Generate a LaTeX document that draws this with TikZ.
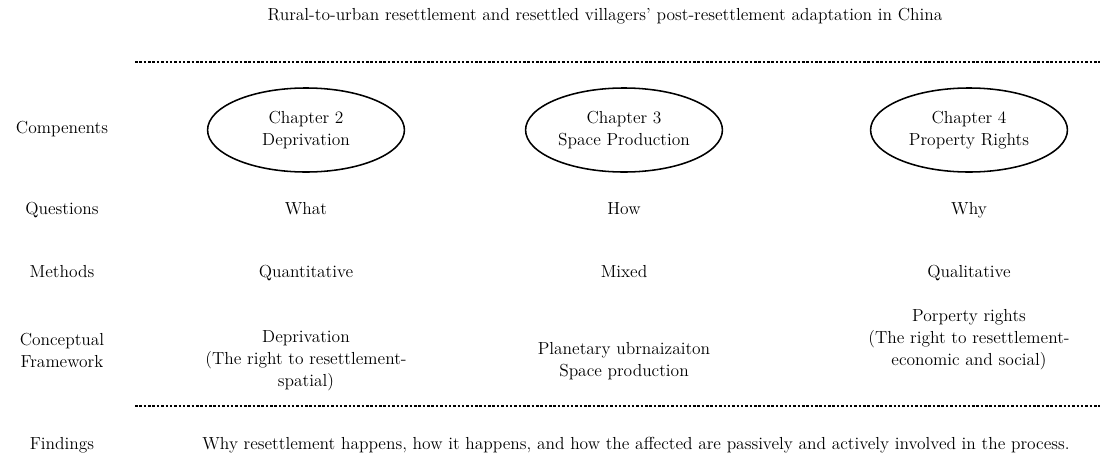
\documentclass[tikz,border=0pt]{standalone}
\usetikzlibrary{positioning, shapes.geometric}
\begin{document}
\begin{tikzpicture}[x=0.025cm, y=-0.025cm,
	every node/.style={align=center, font=\fontsize{12.4}{15.6}\selectfont},
	cell/.style={text height=1.6ex, text depth=.45ex},
	chapter/.style={draw, ellipse, line width=1.1pt, minimum width=4.92cm, minimum height=2.1cm, inner sep=0pt},
	sep/.style={line width=1.1pt, dash pattern=on 1.8pt off 1.3pt}]

	\useasboundingbox (0,0) rectangle (1108,461);
	% Title
	\node[cell] (title) at (605,17) {Rural-to-urban resettlement and resettled villagers' post-resettlement adaptation in China};
	% Separators
	\coordinate (topL) at (135,62);
	\coordinate (topR) at (1100,62);
	\coordinate (botL) at (135,406);
	\coordinate (botR) at (1100,406);
	\draw[sep] (topL) -- (topR);
	\draw[sep] (botL) -- (botR);

	% Row labels
	\node[cell] (comp)  at (62,130) {Compenents};
	\node[cell] (quest) at (62,211) {Questions};
	\node[cell] (meth)  at (62,274) {Methods};
	\node       (frame) at (62,350) {Conceptual\\Framework};
	\node[cell] (find)  at (62,446) {Findings};

	% Chapter 2
	\node[chapter] (ch2)    at (306,130) {Chapter 2\\Deprivation};
	\node[cell]    (what)   at (306,211) {What};
	\node[cell]    (quant)  at (306,274) {Quantitative};
	\node          (depr)   at (306,361) {Deprivation\\(The right to resettlement-\\spatial)};
	% Chapter 3
	\node[chapter] (ch3)    at (624,130) {Chapter 3\\Space Production};
	\node[cell]    (how)    at (624,211) {How};
	\node[cell]    (mixed)  at (624,274) {Mixed};
	\node          (space)  at (624,361) {Planetary ubrnaizaiton\\Space production};
	% Chapter 4
	\node[chapter] (ch4)    at (969,130) {Chapter 4\\Property Rights};
	\node[cell]    (why)    at (969,211) {Why};
	\node[cell]    (qual)   at (969,274) {Qualitative};
	\node          (prop)   at (969,340) {Porperty rights\\(The right to resettlement-\\economic and social)};

	% Findings
	\node[cell] (result) at (636,446) {Why resettlement happens, how it happens, and how the affected are passively and actively involved in the process.};
\end{tikzpicture}
\end{document}
